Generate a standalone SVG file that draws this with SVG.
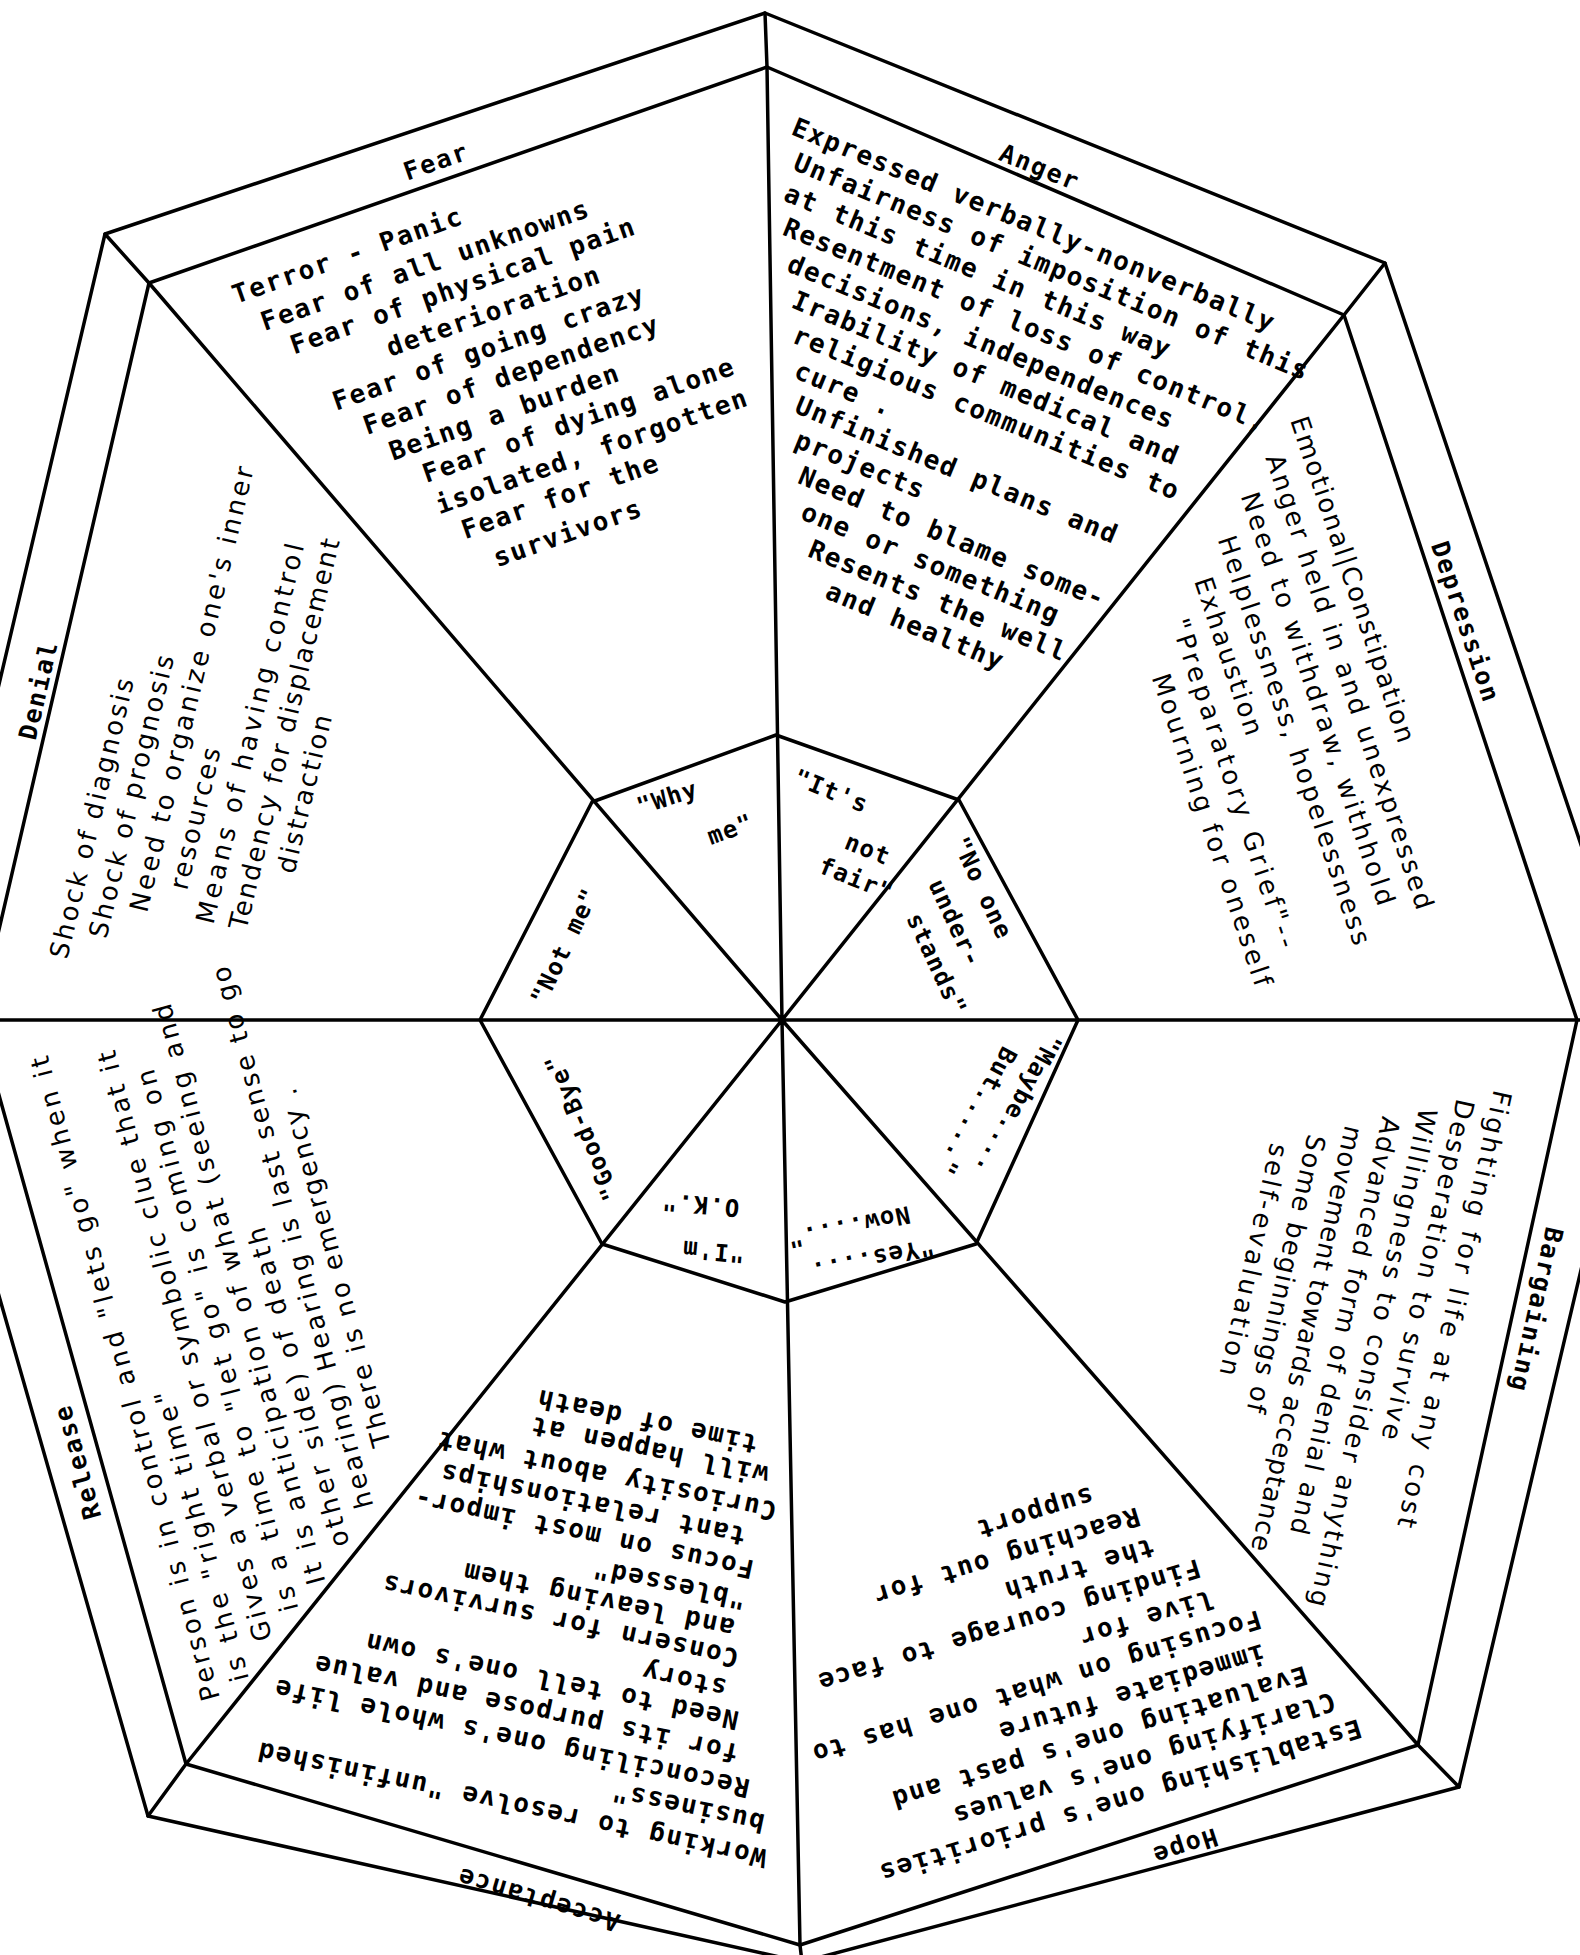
<svg xmlns="http://www.w3.org/2000/svg" width="1580" height="1955" viewBox="0 0 1580 1955">
<style>
.ln{fill:none;stroke:#000;stroke-width:3.5;stroke-linejoin:round;stroke-linecap:round}
.tw text,.tw{font-family:"DejaVu Sans Mono","Liberation Mono",monospace;font-size:26px;font-weight:bold;letter-spacing:1.7px;fill:#000}
.ps text,.ps{font-family:"DejaVu Sans","Liberation Sans",sans-serif;font-size:26px;fill:#000}
.lb{font-family:"DejaVu Sans Mono","Liberation Mono",monospace;font-size:25px;font-weight:bold;letter-spacing:1.8px;fill:#000;text-anchor:middle}
.hb text{font-family:"DejaVu Sans Mono","Liberation Mono",monospace;font-size:24px;font-weight:bold;letter-spacing:1.2px;fill:#000}
</style>
<rect width="1580" height="1955" fill="#fff"/>
<g id="connectors" class="ln">
 <polygon points="765,13 1385,263 1640,1020 1459,1787 802,1962 148,1816 -80,1020 105,234"/>
 <polygon points="767,67 1344,315 1577,1020 1418,1745 800,1945 186,1764 -22,1020 149,283"/>
 <polygon points="776,735 959,800 1078,1020 976,1244 785,1302 602,1244 480,1020 592,802"/>
 <path d="M765,13L767,67 M1385,263L1344,315 M1459,1787L1418,1745 M802,1962L800,1945 M148,1816L186,1764 M105,234L149,283"/>
 <path d="M767,67L782,1020L800,1945 M0,1020L1580,1020 M149,283L782,1020L1418,1745 M1344,315L782,1020L186,1764"/>
</g>
<g id="labels">
 <text class="lb" x="436" y="161" dy="9" transform="rotate(-19.4 436 161)">Fear</text>
 <text class="lb" x="1040" y="167" dy="9" transform="rotate(22 1040 167)">Anger</text>
 <text class="lb" x="1466" y="622" dy="9" transform="rotate(71.6 1466 622)">Depression</text>
 <text class="lb" x="1537" y="1310" dy="9" transform="rotate(102.4 1537 1310)">Bargaining</text>
 <text class="lb" x="1185" y="1847" dy="9" transform="rotate(162 1185 1847)">Hope</text>
 <text class="lb" x="538" y="1900" dy="9" transform="rotate(196.4 538 1900)">Acceptance</text>
 <text class="lb" x="77" y="1462" dy="9" transform="rotate(-105.6 77 1462)">Release</text>
 <text class="lb" x="38" y="690" dy="9" transform="rotate(-77 38 690)">Denial</text>
</g>
<g id="fear" class="tw" transform="translate(236,304) rotate(-19.4)">
 <text x="0" y="0">Terror - Panic</text>
 <text x="18" y="35">Fear of all unknowns</text>
 <text x="38" y="67">Fear of physical pain</text>
 <text x="128" y="101">deterioration</text>
 <text x="59" y="134">Fear of going crazy</text>
 <text x="80" y="167">Fear of dependency</text>
 <text x="96" y="200">Being a burden</text>
 <text x="120" y="232">Fear of dying alone</text>
 <text x="122" y="266">isolated, forgotten</text>
 <text x="138" y="298">Fear for the</text>
 <text x="159" y="335">survivors</text>
</g>
<g id="anger" class="tw" transform="translate(790,134) rotate(22.4)">
 <text x="0" y="0">Expressed verbally-nonverbally</text>
 <text x="15" y="32">Unfairness of imposition of this</text>
 <text x="18" y="64">at this time in this way</text>
 <text x="30" y="96">Resentment of loss of control,</text>
 <text x="48" y="128">decisions, independences</text>
 <text x="66" y="160">Irability of medical and</text>
 <text x="80" y="192">religious communities to</text>
 <text x="95" y="224">cure .</text>
 <text x="109" y="256">Unfinished plans and</text>
 <text x="122" y="288">projects</text>
 <text x="139" y="320">Need to blame some-</text>
 <text x="155" y="352">one or something</text>
 <text x="176" y="384">Resents the well</text>
 <text x="208" y="416">and healthy</text>
</g>
<g id="depression" class="ps" transform="translate(1290,420) rotate(71.5)">
 <text x="0" y="0" textLength="342">Emotional|Constipation</text>
 <text x="28" y="35.5" textLength="478">Anger held in and unexpressed</text>
 <text x="56" y="71" textLength="434">Need to withdraw, withhold</text>
 <text x="90" y="106.5" textLength="430">Helplessness, hopelessness</text>
 <text x="122" y="142" textLength="165">Exhaustion</text>
 <text x="154" y="177.5" textLength="345">"Preparatory Grief"--</text>
 <text x="200" y="213" textLength="328">Mourning for oneself</text>
</g>
<g id="denial" class="ps" transform="translate(67,960) rotate(-76.5)">
 <text x="0" y="0" textLength="287">Shock of diagnosis</text>
 <text x="29" y="33.5" textLength="290">Shock of prognosis</text>
 <text x="64" y="67" textLength="457">Need to organize one's inner</text>
 <text x="95" y="100.5" textLength="145">resources</text>
 <text x="68" y="134" textLength="390">Means of having control</text>
 <text x="70" y="167.5" textLength="401">Tendency for displacement</text>
 <text x="136" y="201" textLength="162">distraction</text>
</g>
<g id="bargaining" class="ps" transform="translate(1494,1089) rotate(102.5)">
 <text x="0" y="0" textLength="447">Fighting for life at any cost</text>
 <text x="16.7" y="34.4" textLength="348">Desperation to survive</text>
 <text x="33.4" y="68.8" textLength="510">Willingness to consider anything</text>
 <text x="50.1" y="103.2" textLength="427">Advanced form of denial and</text>
 <text x="66.8" y="137.6" textLength="435">movement towards acceptance</text>
 <text x="83.5" y="172" textLength="284">Some beginnings of</text>
 <text x="100.2" y="206.4" textLength="237">self-evaluation</text>
</g>
<g id="release" class="ps" transform="translate(220,1698) rotate(-105)">
 <text x="0" y="0" textLength="666">Person is in control and "lets go" when it</text>
 <text x="11" y="33" textLength="300">is the "right time"</text>
 <text x="44" y="66" textLength="610">Gives a verbal or symbolic clue that it</text>
 <text x="66" y="99" textLength="560">is a time to "let go" is coming on</text>
 <text x="85" y="132" textLength="600">It is anticipation of what (seeing and</text>
 <text x="115" y="165" textLength="330">other side) of death</text>
 <text x="146" y="198" textLength="560">hearing) Hearing is last sense to go</text>
 <text x="201" y="231" textLength="370">There is no emergency .</text>
</g>
<g id="hope" class="tw" transform="translate(1358,1719) rotate(163)">
 <text x="0" y="0">Establishing one's priorities</text>
 <text x="17" y="33.4">Clarifying one's values</text>
 <text x="36" y="66.8">Evaluating one's past and</text>
 <text x="70" y="100.2">immediate future</text>
 <text x="64" y="133.6">Focusing on what one has to</text>
 <text x="104" y="167">live for</text>
 <text x="107" y="200.4">Finding courage to face</text>
 <text x="145" y="233.8">the truth</text>
 <text x="150" y="267.2">Reaching out for</text>
 <text x="188" y="300.6">support</text>
</g>
<g id="acceptance" class="tw">
 <text x="768" y="1850" transform="rotate(192 768 1850)">Working to resolve "unfinished</text>
 <text x="766" y="1815" transform="rotate(192 766 1815)">business"</text>
 <text x="751" y="1780" transform="rotate(192 751 1780)">Reconciling one's whole life</text>
 <text x="740" y="1745" transform="rotate(192 740 1745)">for its purpose and value</text>
 <text x="740" y="1712" transform="rotate(192 740 1712)">Need to tell one's own</text>
 <text x="728" y="1680" transform="rotate(192 728 1680)">story</text>
 <text x="740" y="1650" transform="rotate(192 740 1650)">Consern for survivors</text>
 <text x="736" y="1620" transform="rotate(192 736 1620)">and leaving them</text>
 <text x="747" y="1592" transform="rotate(192 747 1592)">"blessed"</text>
 <text x="755" y="1561" transform="rotate(192 755 1561)">Focus on most impor-</text>
 <text x="747" y="1528" transform="rotate(192 747 1528)">tant relationships</text>
 <text x="778" y="1503" transform="rotate(192 778 1503)">Curiosity about what</text>
 <text x="770" y="1467" transform="rotate(192 770 1467)">will happen at</text>
 <text x="759" y="1436" transform="rotate(192 759 1436)">time of death</text>
</g>
<g id="hub-why" class="hb">
 <text x="640" y="815" transform="rotate(-18 640 815)">"Why</text>
 <text x="711" y="845" transform="rotate(-20 711 845)">me"</text>
</g>
<g id="hub-fair" class="hb">
 <text x="792" y="784" transform="rotate(22 792 784)">"It's</text>
 <text x="843" y="848" transform="rotate(22 843 848)">not</text>
 <text x="817" y="872" transform="rotate(22 817 872)">fair"</text>
</g>
<g id="hub-noone" class="hb">
 <text x="952" y="842" transform="rotate(65 952 842)">"No one</text>
 <text x="928" y="884" transform="rotate(65 928 884)">under-</text>
 <text x="906" y="918" transform="rotate(65 906 918)">stands"</text>
</g>
<g id="hub-maybe" class="hb">
 <text x="1048" y="1032" transform="rotate(118 1048 1032)">"Maybe....</text>
 <text x="1003" y="1045" transform="rotate(118 1003 1045)">But....."</text>
</g>
<g id="hub-yes" class="hb">
 <text x="932" y="1238" transform="rotate(168 932 1238)">"Yes....</text>
 <text x="908" y="1206" transform="rotate(168 908 1206)">Now...."</text>
</g>
<g id="hub-ok" class="hb">
 <text x="745" y="1246" transform="rotate(185 745 1246)">"I'm</text>
 <text x="740" y="1200" transform="rotate(185 740 1200)">O.K."</text>
</g>
<g id="hub-goodbye" class="hb">
 <text x="620" y="1196" transform="rotate(-113 620 1196)">"Good-Bye"</text>
</g>
<g id="hub-notme" class="hb">
 <text x="545" y="1006" transform="rotate(-64.5 545 1006)">"Not me"</text>
</g>
</svg>
